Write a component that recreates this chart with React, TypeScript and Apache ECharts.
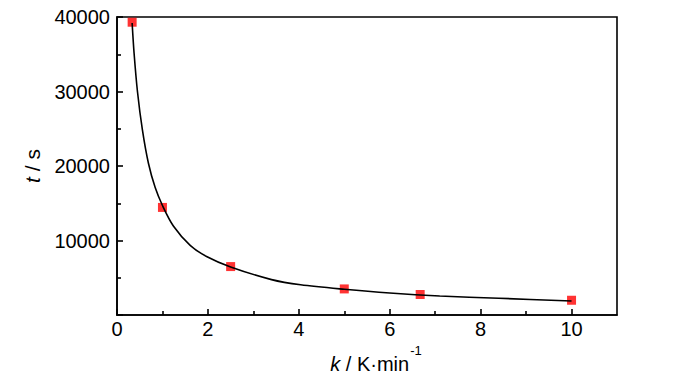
import React, { useEffect, useRef } from "react";
import * as echarts from "echarts";

// measured points (heating rate k in K/min, time t in s)
const pointK = [0.333, 1, 2.5, 5, 6.67, 10];
const pointT = [39300, 14440, 6500, 3500, 2750, 1980];

// fitted curve
const curveK = [0.333, 0.375, 0.45, 0.56, 0.69, 0.84, 1.0, 1.24, 1.61, 1.97, 2.5, 3.4, 4.04, 5.0, 6.0, 7.1, 8.4, 10.0];
const curveT = [39200, 35200, 30000, 24800, 20400, 17100, 14700, 11950, 9350, 7850, 6450, 4750, 4050, 3450, 2950, 2550, 2250, 1870];

const xMajorTicks = [0, 2, 4, 6, 8, 10];
const xMinorTicks = [1, 3, 5, 7, 9];
const yTickLabels = ["", "10000", "20000", "30000", "40000"];

const FONT = "'Liberation Sans', Arial, sans-serif";

export default function App() {
  const ref = useRef<HTMLDivElement>(null);
  useEffect(() => {
    if (!ref.current) return;
    const chart = echarts.init(ref.current, undefined, { renderer: "svg" });
    const lineStyle = { color: "#000", width: 1.6 };
    chart.setOption({
      animation: false,
      backgroundColor: "#fff",
      grid: {
        left: 117,
        top: 17,
        right: 83,
        bottom: 59,
        show: true,
        borderColor: "#000",
        borderWidth: 1.6,
        backgroundColor: "transparent",
        outerBoundsMode: "none",
        containLabel: false,
      },
      xAxis: [
        {
          type: "value",
          min: 0,
          max: 11,
          position: "bottom",
          axisLine: { show: true, lineStyle },
          axisTick: { show: true, inside: true, length: 6, lineStyle, customValues: xMajorTicks },
          axisLabel: {
            color: "#000",
            fontFamily: FONT,
            fontSize: 20,
            margin: 4,
            customValues: xMajorTicks,
          },
          splitLine: { show: false },
          name: "{i|k} / K·min{sup|-1}",
          nameLocation: "middle",
          nameGap: 20,
          nameTextStyle: {
            color: "#000",
            fontFamily: FONT,
            fontSize: 20,
            padding: [0, 0, 0, 18],
            rich: {
              i: { fontStyle: "italic", fontFamily: FONT, fontSize: 20, color: "#000" },
              sup: { fontFamily: FONT, fontSize: 13, color: "#000", padding: [0, 0, 28, 1] },
            },
          },
        },
        {
          type: "value",
          min: 0,
          max: 11,
          position: "bottom",
          axisLine: { show: false },
          axisTick: { show: true, inside: true, length: 4, lineStyle, customValues: xMinorTicks },
          axisLabel: { show: false },
          splitLine: { show: false },
        },
      ],
      yAxis: {
        type: "value",
        min: 0,
        max: 40000,
        interval: 10000,
        axisLine: { show: true, lineStyle },
        axisTick: { show: true, inside: true, length: 6, lineStyle },
        minorTick: { show: true, splitNumber: 2, length: 4, lineStyle },
        axisLabel: {
          color: "#000",
          fontFamily: FONT,
          fontSize: 20,
          margin: 7,
          formatter: (v: number) => yTickLabels[Math.round(v / 10000)] ?? "",
        },
        splitLine: { show: false },
        name: "{i|t} / s",
        nameLocation: "middle",
        nameGap: 71,
        nameTextStyle: {
          color: "#000",
          fontFamily: FONT,
          fontSize: 21,
          rich: {
            i: { fontStyle: "italic", fontFamily: FONT, fontSize: 21, color: "#000" },
          },
        },
      },
      series: [
        {
          type: "scatter",
          xAxisIndex: 0,
          data: pointK.map((k, i) => [k, pointT[i]]),
          symbol: "rect",
          symbolSize: 9,
          itemStyle: { color: "#ff0000" },
          z: 2,
        },
        {
          type: "line",
          xAxisIndex: 0,
          data: curveK.map((k, i) => [k, curveT[i]]),
          smooth: 0.3,
          showSymbol: false,
          lineStyle: { color: "#000", width: 1.6 },
          z: 3,
        },
      ],
    });
    return () => chart.dispose();
  }, []);
  return <div ref={ref} style={{ width: 700, height: 374, position: "absolute", left: 0, top: 0 }} />;
}
